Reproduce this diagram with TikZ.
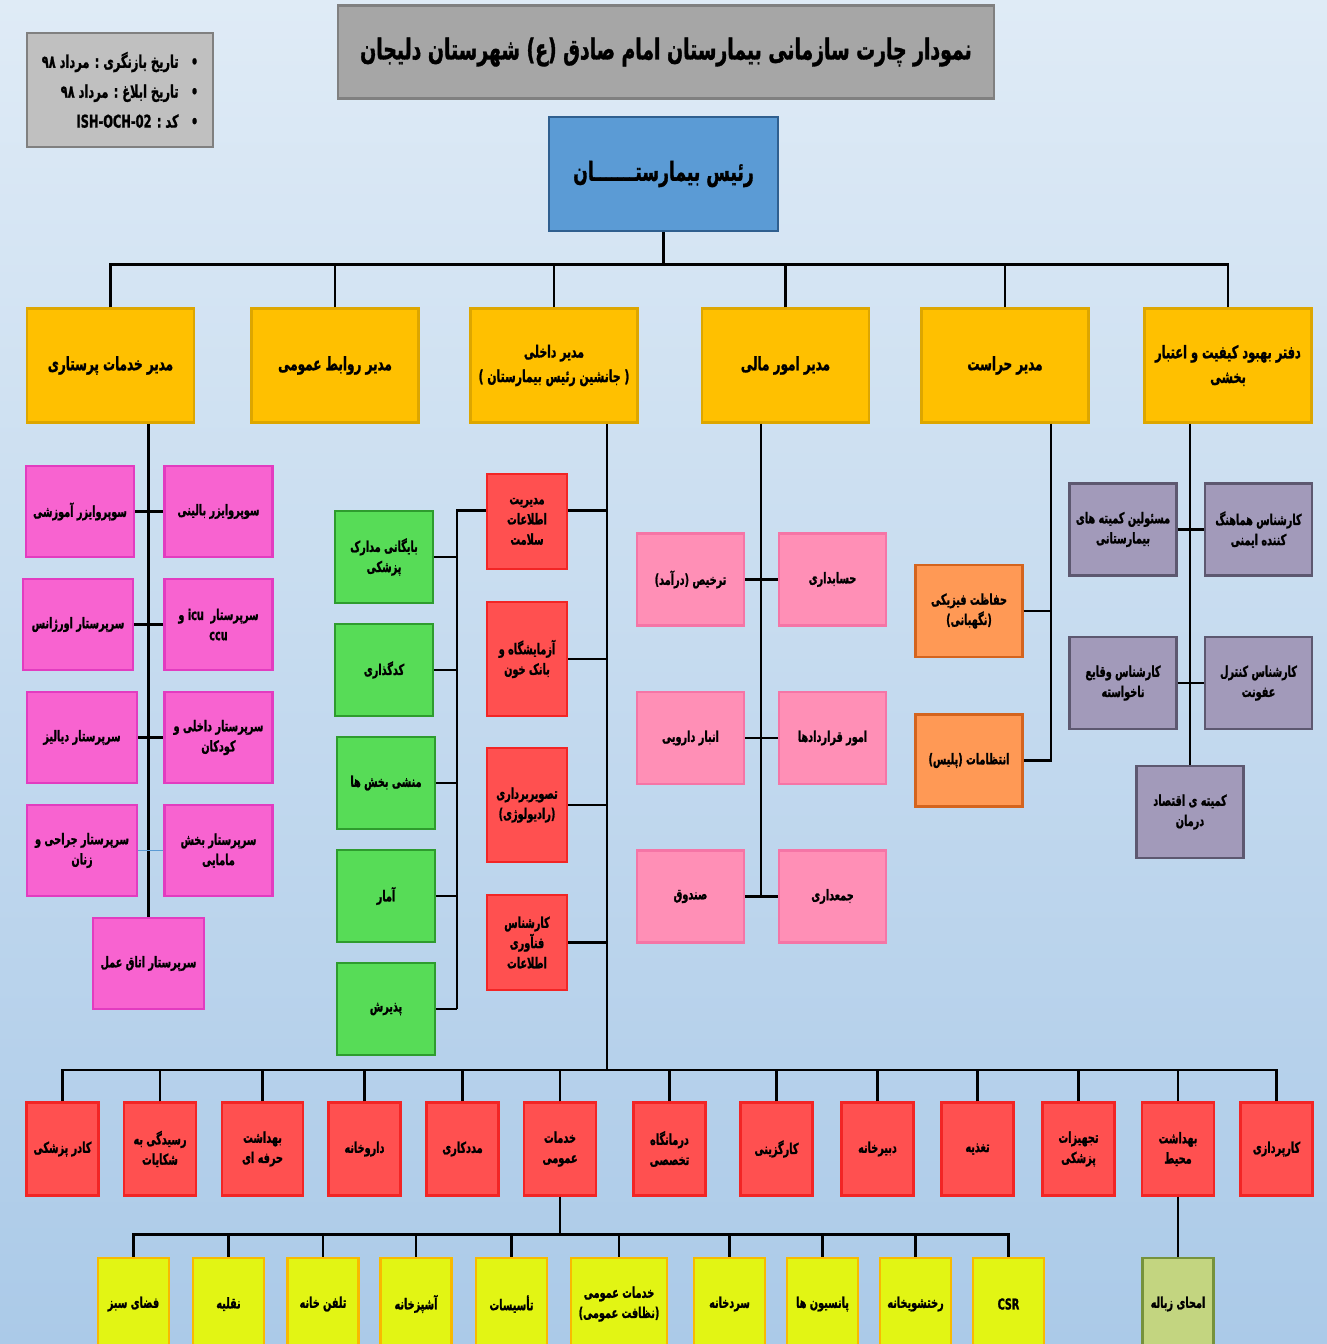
\documentclass[tikz,border=0pt]{standalone}
\usepackage{fontspec}
\newfontfamily\farsi[Script=Arabic,FakeStretch=0.65,BoldFeatures={FakeBold=1.2}]{DejaVu Sans}
\TeXXeTstate=1
\newcommand{\rl}[1]{\beginR #1\endR}

\definecolor{bgtop}{HTML}{DFEBF6}
\definecolor{bgbot}{HTML}{ABCAE8}
\definecolor{grayfill}{HTML}{C0C0C0}
\definecolor{titlefill}{HTML}{A6A6A6}
\definecolor{grayline}{HTML}{808080}
\definecolor{headfill}{HTML}{5B9BD5}
\definecolor{headline}{HTML}{2F5F8F}
\definecolor{mgrfill}{HTML}{FFC000}
\definecolor{mgrline}{HTML}{DDA600}
\definecolor{nursfill}{HTML}{F863D0}
\definecolor{nursline}{HTML}{E23CC0}
\definecolor{redfill}{HTML}{FF5050}
\definecolor{redline}{HTML}{F22525}
\definecolor{greenfill}{HTML}{57DC57}
\definecolor{greenline}{HTML}{2E9C2E}
\definecolor{finfill}{HTML}{FF8FB6}
\definecolor{finline}{HTML}{F575A6}
\definecolor{orgfill}{HTML}{FF9955}
\definecolor{orgline}{HTML}{D4641E}
\definecolor{qfill}{HTML}{A29ABA}
\definecolor{qline}{HTML}{5D5870}
\definecolor{yelfill}{HTML}{E2F514}
\definecolor{yelline}{HTML}{F8BA00}
\definecolor{wastefill}{HTML}{C3D580}
\definecolor{wasteline}{HTML}{76923C}
\definecolor{thinblue}{HTML}{5B9BD5}

\tikzset{
  unit/.style={draw, line width=1.3pt, align=center, inner sep=1pt,
    font=\farsi\bfseries\fontsize{8.5}{11.5}\selectfont},
  infobox/.style={unit, fill=grayfill, draw=grayline, line width=1.6pt,
    minimum width=3.72cm, minimum height=2.28cm, align=right,
    font=\farsi\bfseries\fontsize{10}{17}\selectfont},
  titlebox/.style={unit, fill=titlefill, draw=grayline, line width=1.6pt,
    minimum width=13.12cm, minimum height=1.86cm,
    font=\farsi\bfseries\fontsize{16.5}{20}\selectfont},
  headbox/.style={unit, fill=headfill, draw=headline,
    minimum width=4.58cm, minimum height=2.28cm,
    font=\farsi\bfseries\fontsize{15}{19}\selectfont},
  mgrbox/.style={unit, fill=mgrfill, draw=mgrline,
    minimum width=3.34cm, minimum height=2.28cm,
    font=\farsi\bfseries\fontsize{10.5}{14}\selectfont},
  nursbox/.style={unit, fill=nursfill, draw=nursline,
    minimum width=2.16cm, minimum height=1.82cm},
  labbox/.style={unit, fill=redfill, draw=redline,
    minimum width=1.6cm, minimum height=2.28cm},
  recbox/.style={unit, fill=greenfill, draw=greenline,
    minimum width=1.96cm, minimum height=1.84cm},
  finbox/.style={unit, fill=finfill, draw=finline,
    minimum width=2.14cm, minimum height=1.84cm},
  guardbox/.style={unit, fill=orgfill, draw=orgline,
    minimum width=2.14cm, minimum height=1.84cm},
  qbox/.style={unit, fill=qfill, draw=qline,
    minimum width=2.14cm, minimum height=1.84cm},
  deptbox/.style={unit, fill=redfill, draw=redline,
    minimum width=1.44cm, minimum height=1.86cm},
  servbox/.style={unit, fill=yelfill, draw=yelline,
    minimum width=1.42cm, minimum height=1.84cm},
  wastebox/.style={unit, fill=wastefill, draw=wasteline,
    minimum width=1.42cm, minimum height=1.84cm},
  link/.style={line width=1.6pt},
}

\begin{document}
\begin{tikzpicture}[x=0.02cm, y=-0.02cm]
\useasboundingbox (0,0) rectangle (1327,1344);

% background
\shade[top color=bgtop, bottom color=bgbot] (0,0) rectangle (1327,1344);

% header
\node[infobox] (info) at (120,90) {\rl{•\hspace{7pt}تاریخ بازنگری : مرداد ۹۸}\\ \rl{•\hspace{7pt}تاریخ ابلاغ : مرداد ۹۸}\\ \rl{•\hspace{7pt}کد : \beginL ISH-OCH-02\endL}};
\node[titlebox] (title) at (666,52) {\rl{نمودار چارت سازمانی بیمارستان امام صادق (ع) شهرستان دلیجان}};
\node[headbox] (head) at (663.5,174) {\rl{رئیس بیمارستـــــــان}};

% managers
\node[mgrbox] (nursmgr) at (110.5,365.5) {\rl{مدیر خدمات پرستاری}};
\node[mgrbox] (prmgr) at (335,365.5) {\rl{مدیر روابط عمومی}};
\node[mgrbox, font=\farsi\bfseries\fontsize{9.5}{14}\selectfont] (intmgr) at (554,365.5) {\rl{مدیر داخلی}\\ \rl{( جانشین رئیس بیمارستان )}};
\node[mgrbox] (finmgr) at (785.5,365.5) {\rl{مدیر امور مالی}};
\node[mgrbox] (secmgr) at (1005,365.5) {\rl{مدیر حراست}};
\node[mgrbox, font=\farsi\bfseries\fontsize{10}{14}\selectfont] (qmgr) at (1228,365.5) {\rl{دفتر بهبود کیفیت و اعتبار}\\ \rl{بخشی}};

\draw[link] (head.south) -- ++(0,32) coordinate (topbus);
\foreach \m in {nursmgr,prmgr,intmgr,finmgr,secmgr,qmgr}
  \draw[link] (\m.north) |- (topbus);

% nursing
\node[nursbox] (edusup) at (80,511.5) {\rl{سوپروایزر آموزشی}};
\node[nursbox] (clinsup) at (218.5,511.5) {\rl{سوپروایزر بالینی}};
\node[nursbox, minimum width=2.2cm] (emerg) at (78,624.5) {\rl{سرپرستار اورژانس}};
\node[nursbox] (icu) at (218.5,624.5) {\rl{سرپرستار \ icu و}\\ \rl{ccu}};
\node[nursbox, minimum width=2.2cm] (dialysis) at (82,737.5) {\rl{سرپرستار دیالیز}};
\node[nursbox] (internal) at (218.5,737.5) {\rl{سرپرستار داخلی و}\\ \rl{کودکان}};
\node[nursbox, minimum width=2.2cm] (surgery) at (82,850.5) {\rl{سرپرستار جراحی و}\\ \rl{زنان}};
\node[nursbox] (midwife) at (218.5,850.5) {\rl{سرپرستار بخش}\\ \rl{مامایی}};
\node[nursbox, minimum width=2.22cm] (oproom) at (148.5,963.5) {\rl{سرپرستار اتاق عمل}};

\draw[link] (nursmgr.south -| oproom.north) -- (oproom.north);
\draw[link] (edusup.east) -- (clinsup.west);
\draw[link] (emerg.east) -- (icu.west);
\draw[link] (dialysis.east) -- (internal.west);
\draw[thinblue, line width=0.6pt] (surgery.east) -- (midwife.west);

% internal affairs
\node[labbox, minimum height=1.9cm] (him) at (527,521.5) {\rl{مدیریت}\\ \rl{اطلاعات}\\ \rl{سلامت}};
\node[labbox] (lab) at (527,659) {\rl{آزمایشگاه و}\\ \rl{بانک خون}};
\node[labbox] (radio) at (527,805) {\rl{تصویربرداری}\\ \rl{(رادیولوژی)}};
\node[labbox, minimum height=1.9cm] (itexp) at (527,942.5) {\rl{کارشناس}\\ \rl{فنآوری}\\ \rl{اطلاعات}};

\node[recbox] (archive) at (384,557) {\rl{بایگانی مدارک}\\ \rl{پزشکی}};
\node[recbox] (coding) at (384,670) {\rl{کدگذاری}};
\node[recbox] (secretary) at (386,783) {\rl{منشی بخش ها}};
\node[recbox] (stats) at (386,896) {\rl{آمار}};
\node[recbox] (admit) at (386,1009) {\rl{پذیرش}};

\coordinate (bbus) at (607,1070);
\coordinate (recbot) at (457,1009);
\coordinate (himr) at ([yshift=0.22cm]him.east);
\coordinate (himl) at ([yshift=0.22cm]him.west);
\draw[link] (intmgr.south -| bbus) -- (bbus);
\draw[link] (himr) -- (himr -| bbus);
\foreach \n in {lab,radio,itexp}
  \draw[link] (\n.east) -- (\n.east -| bbus);
\draw[link] (himl) -| (recbot);
\foreach \n in {archive,coding,secretary,stats,admit}
  \draw[link] (\n.east) -- (\n.east -| recbot);

% finance
\node[finbox] (discharge) at (690.5,579.5) {\rl{ترخیص (درآمد)}};
\node[finbox] (account) at (832.5,579.5) {\rl{حسابداری}};
\node[finbox] (pharmstore) at (690.5,738) {\rl{انبار دارویی}};
\node[finbox] (contracts) at (832.5,738) {\rl{امور قراردادها}};
\node[finbox] (cashbox) at (690.5,896.5) {\rl{صندوق}};
\node[finbox] (assets) at (832.5,896.5) {\rl{جمعداری}};

\coordinate (finbot) at (761,896.5);
\draw[link] (finmgr.south -| finbot) -- (finbot);
\draw[link] (discharge.east) -- (account.west);
\draw[link] (pharmstore.east) -- (contracts.west);
\draw[link] (cashbox.east) -- (assets.west);

% security
\node[guardbox] (guard) at (969,611) {\rl{حفاظت فیزیکی}\\ \rl{(نگهبانی)}};
\node[guardbox] (police) at (969,760.5) {\rl{انتظامات (پلیس)}};

\coordinate (secbot) at (1051,760.5);
\draw[link] (secmgr.south -| secbot) |- (police.east);
\draw[link] (guard.east) -- (guard.east -| secbot);

% quality
\node[qbox] (committee) at (1123,529.5) {\rl{مسئولین کمیته های}\\ \rl{بیمارستانی}};
\node[qbox] (safety) at (1258.5,529.5) {\rl{کارشناس هماهنگ}\\ \rl{کننده ایمنی}};
\node[qbox] (incident) at (1123,683) {\rl{کارشناس وقایع}\\ \rl{ناخواسته}};
\node[qbox] (infect) at (1258.5,683) {\rl{کارشناس کنترل}\\ \rl{عفونت}};
\node[qbox] (econ) at (1190,812) {\rl{کمیته ی اقتصاد}\\ \rl{درمان}};

\draw[link] (qmgr.south -| econ.north) -- (econ.north);
\draw[link] (committee.east) -- (safety.west);
\draw[link] (incident.east) -- (infect.west);

% departments
\node[deptbox] (medstaff) at (62.5,1149) {\rl{کادر پزشکی}};
\node[deptbox] (complaint) at (160,1149) {\rl{رسیدگی به}\\ \rl{شکایات}};
\node[deptbox, minimum width=1.62cm] (occhealth) at (262.5,1149) {\rl{بهداشت}\\ \rl{حرفه ای}};
\node[deptbox] (pharmacy) at (364.5,1149) {\rl{داروخانه}};
\node[deptbox] (social) at (462.5,1149) {\rl{مددکاری}};
\node[deptbox] (gensrv) at (560,1149) {\rl{خدمات}\\ \rl{عمومی}};
\node[deptbox] (clinic) at (669.5,1149) {\rl{درمانگاه}\\ \rl{تخصصی}};
\node[deptbox] (personnel) at (776.5,1149) {\rl{کارگزینی}};
\node[deptbox] (registry) at (877.5,1149) {\rl{دبیرخانه}};
\node[deptbox] (nutrition) at (977.5,1149) {\rl{تغذیه}};
\node[deptbox] (medequip) at (1078.5,1149) {\rl{تجهیزات}\\ \rl{پزشکی}};
\node[deptbox] (envhealth) at (1178,1149) {\rl{بهداشت}\\ \rl{محیط}};
\node[deptbox] (procure) at (1276.5,1149) {\rl{کارپردازی}};

\foreach \n in {medstaff,complaint,occhealth,pharmacy,social,gensrv,clinic,personnel,registry,nutrition,medequip,envhealth,procure}
  \draw[link] (\n.north) |- (bbus);

% general services
\node[servbox] (greens) at (133.5,1304) {\rl{فضای سبز}};
\node[servbox] (transport) at (228.5,1304) {\rl{نقلیه}};
\node[servbox] (phone) at (323,1304) {\rl{تلفن خانه}};
\node[servbox] (kitchen) at (416,1304) {\rl{آشپزخانه}};
\node[servbox] (facilities) at (511.5,1304) {\rl{تأسیسات}};
\node[servbox, minimum width=1.92cm] (cleaning) at (619,1304) {\rl{خدمات عمومی}\\ \rl{(نظافت عمومی)}};
\node[servbox] (morgue) at (729.5,1304) {\rl{سردخانه}};
\node[servbox] (pension) at (822.5,1304) {\rl{پانسیون ها}};
\node[servbox] (laundry) at (915.5,1304) {\rl{رختشویخانه}};
\node[servbox] (csr) at (1008.5,1304) {\rl{CSR}};
\node[wastebox] (waste) at (1178,1304) {\rl{امحای زباله}};

\draw[link] (gensrv.south) -- ++(0,38) coordinate (servbus);
\foreach \n in {greens,transport,phone,kitchen,facilities,cleaning,morgue,pension,laundry,csr}
  \draw[link] (\n.north) |- (servbus);
\draw[link] (envhealth.south) -- (waste.north);

\end{tikzpicture}
\end{document}
